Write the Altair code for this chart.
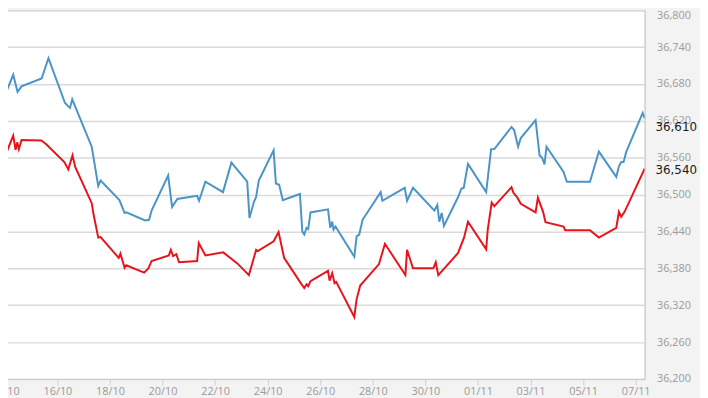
import altair as alt
import pandas as pd

# Time positions in days after 14/10 00:00
blue_days = [-0.18, 0.32, 0.485, 0.636, 1.40, 1.66, 2.29, 2.48, 2.565, 3.306, 3.554, 3.644,
             4.359, 4.558, 4.622, 5.337, 5.487, 5.585, 6.213, 6.364, 6.563, 7.315, 7.39, 7.631,
             8.30, 8.62, 9.222, 9.308, 9.474, 9.56, 9.662, 10.226, 10.313, 10.437, 10.576, 11.226,
             11.317, 11.392, 11.479, 11.542, 11.629, 12.295, 12.381, 12.456, 12.505, 12.58, 13.295,
             13.385, 13.483, 13.611, 14.299, 14.363, 15.213, 15.303, 15.529, 16.342, 16.454, 16.53,
             16.62, 16.706, 17.244, 17.372, 17.458, 17.62, 18.312, 18.5, 18.624, 19.275, 19.377,
             19.527, 19.629, 20.193, 20.343, 20.441, 20.531, 20.607, 21.257, 21.381, 22.261, 22.6,
             23.262, 23.363, 23.45, 23.54, 23.638, 24.266, 24.341]
blue_values = [36642, 36695, 36667, 36676, 36689, 36722, 36649, 36641, 36655, 36578, 36514, 36523,
               36491, 36470, 36471, 36458, 36459, 36474, 36531, 36480, 36493, 36498, 36490, 36521,
               36504, 36552, 36521, 36462, 36488, 36496, 36523, 36572, 36518, 36516, 36491, 36501,
               36440, 36435, 36446, 36444, 36471, 36476, 36446, 36456, 36443, 36448, 36399,
               36432, 36435, 36459, 36504, 36490, 36511, 36490, 36511, 36474, 36483, 36456,
               36470, 36449, 36496, 36510, 36511, 36550, 36504, 36574, 36574, 36610, 36605,
               36578, 36592, 36621, 36564, 36560, 36549, 36578, 36537, 36521, 36521, 36570,
               36529, 36546, 36553, 36553, 36569, 36633, 36624]

red_days = [-0.18, 0.32, 0.41, 0.47, 0.534, 0.636, 1.388, 1.576, 2.264, 2.415, 2.576, 2.678,
            3.306, 3.366, 3.554, 3.644, 4.333, 4.397, 4.558, 4.622, 5.299, 5.461, 5.585, 6.24,
            6.315, 6.401, 6.525, 6.627, 7.315, 7.379, 7.631, 8.308, 8.846, 9.286, 9.56, 9.624,
            10.226, 10.414, 10.625, 11.29, 11.392, 11.479, 11.542, 11.629, 12.295, 12.355, 12.456,
            12.543, 12.607, 13.295, 13.385, 13.521, 14.235, 14.461, 15.239, 15.303, 15.529, 16.304,
            16.394, 16.492, 17.244, 17.47, 17.62, 18.312, 18.372, 18.523, 18.624, 19.275, 19.35,
            19.501, 19.629, 20.193, 20.279, 20.478, 20.569, 21.257, 21.321, 22.261, 22.6, 23.262,
            23.363, 23.45, 23.578, 24.341]
red_values = [36542, 36596, 36573, 36585, 36574, 36589, 36588, 36582, 36553, 36541, 36564, 36545,
              36486, 36470, 36430, 36431, 36397, 36404, 36381, 36385, 36373, 36380, 36392, 36401,
              36410, 36400, 36403, 36390, 36392, 36421, 36401, 36406, 36388, 36369, 36410, 36408,
              36424, 36439, 36397, 36354, 36348, 36354, 36351, 36359, 36376, 36360, 36372,
              36356, 36358, 36301, 36330, 36352, 36387, 36420, 36369, 36410, 36380, 36380,
              36390, 36369, 36405, 36430, 36456, 36411, 36443, 36487, 36481, 36512, 36503,
              36495, 36485, 36471, 36495, 36472, 36455, 36448, 36442, 36442, 36430, 36446,
              36472, 36464, 36472, 36542]

series_names = ["Series A", "Series B"]
series_colors = ["#4a94c8", "#e8141c"]

last_values = [36610, 36540]
last_labels = ["36,610", "36,540"]

y_ticks = [36200, 36260, 36320, 36380, 36440, 36500, 36560, 36620, 36680, 36740, 36800]
x_tick_days = [(2023, 10, 14), (2023, 10, 16), (2023, 10, 18), (2023, 10, 20), (2023, 10, 22),
               (2023, 10, 24), (2023, 10, 26), (2023, 10, 28), (2023, 10, 30), (2023, 11, 1),
               (2023, 11, 3), (2023, 11, 5), (2023, 11, 7)]

base = pd.Timestamp("2023-10-14")
df = pd.concat([
    pd.DataFrame({"time": base + pd.to_timedelta(blue_days, unit="D"),
                  "value": blue_values, "series": series_names[0]}),
    pd.DataFrame({"time": base + pd.to_timedelta(red_days, unit="D"),
                  "value": red_values, "series": series_names[1]}),
], ignore_index=True)

labels_df = pd.DataFrame({"value": last_values, "label": last_labels})

x_scale = alt.Scale(
    domain=[alt.DateTime(year=2023, month=10, date=13, hours=19, minutes=41),
            alt.DateTime(year=2023, month=11, date=7, hours=8, minutes=11)],
    nice=False,
)
y_scale = alt.Scale(domain=[36200, 36800], nice=False, zero=False)

lines = alt.Chart(df).mark_line(strokeWidth=2, clip=True).encode(
    x=alt.X("time:T", scale=x_scale,
            axis=alt.Axis(values=[alt.DateTime(year=y, month=m, date=d) for (y, m, d) in x_tick_days],
                          tickCount=30,
                          format="%d/%m", title=None, grid=False, labelFlush=False,
                          labelOverlap=False, domainColor="#c9c9c9", tickColor="#cfcfcf",
                          tickSize=6, labelPadding=1, labelColor="#9a9a9a",
                          labelFontSize=11, labelFont="Open Sans")),
    y=alt.Y("value:Q", scale=y_scale,
            axis=alt.Axis(orient="right", values=y_ticks, tickCount=30, format=",.0f", title=None,
                          grid=True, gridColor="#dadada", gridWidth=1.5,
                          ticks=False, tickSize=0, labelPadding=12, domainColor="#cccccc",
                          labelOverlap=False, labelFlush=False, labelBound=False,
                          labelOffset={"condition": {"test": "datum.value >= 36800", "value": 5},
                                       "value": 0},
                          labelColor="#9a9a9a", labelFontSize=11, labelFont="Open Sans")),
    color=alt.Color("series:N", scale=alt.Scale(domain=series_names, range=series_colors),
                    legend=None),
    order=alt.Order("time:T"),
)

texts = alt.Chart(labels_df).mark_text(
    align="left", baseline="middle", font="DejaVu Sans", fontSize=12, color="#1a1a1a"
).encode(
    x=alt.value(663),
    y=alt.Y("value:Q", scale=y_scale),
    text="label:N",
)

chart = alt.layer(lines, texts).properties(
    width=652, height=373,
    autosize=alt.AutoSizeParams(type="none"),
    padding={"left": -8, "top": 0, "right": 56, "bottom": 17},
    background="#f3f3f3",
).configure_view(fill="white", stroke="#cccccc")

chart.save("out.html", embed_options={"renderer": "svg", "actions": False})
